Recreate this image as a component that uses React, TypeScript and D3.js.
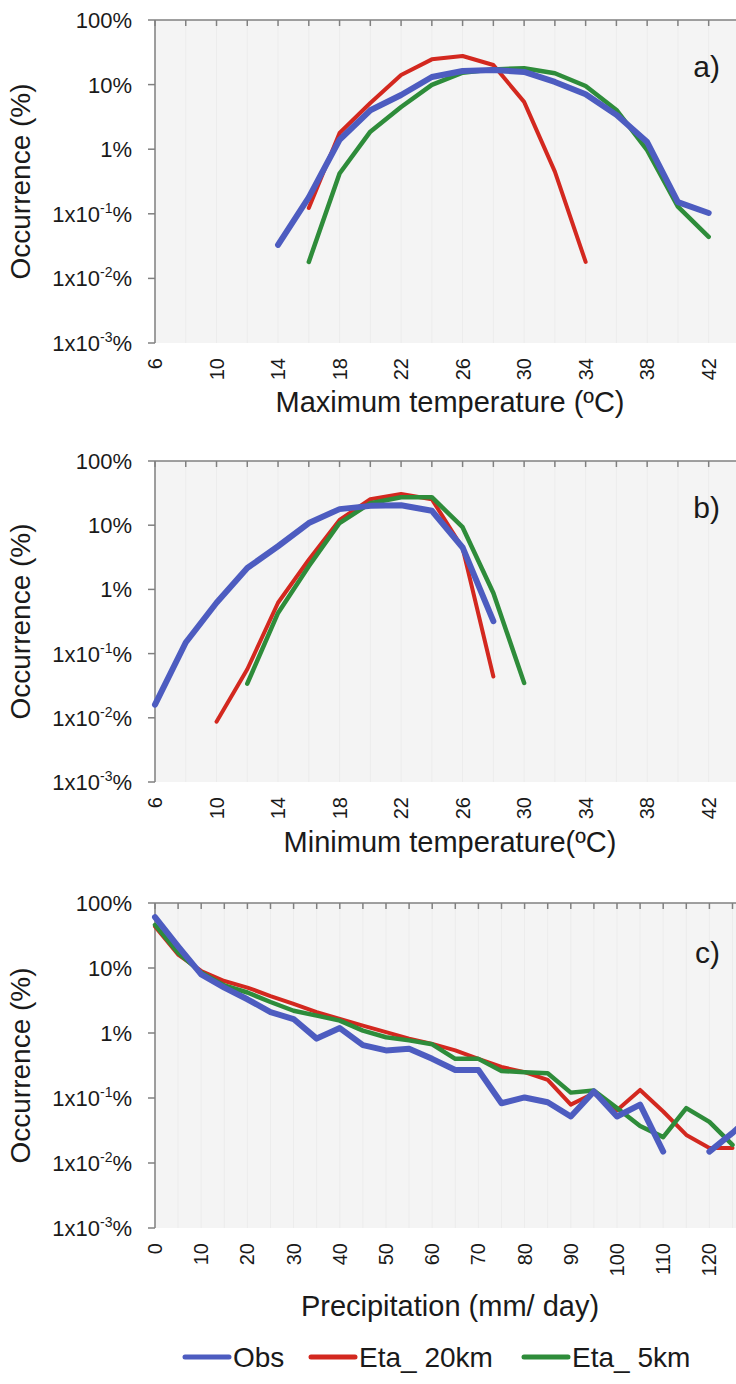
import React from 'react';
import * as d3 from 'd3';

// ---------- DATA ----------
const legendNames = ['Obs', 'Eta_ 20km', 'Eta_ 5km'];

// Panel a) Maximum temperature
const tmaxX = [14, 16, 18, 20, 22, 24, 26, 28, 30, 32, 34, 36, 38, 40, 42];
const tmaxObs = [0.033, 0.18, 1.4, 4.0, 6.9, 13.1, 16.2, 16.8, 15.7, 11, 7.1, 3.4, 1.29, 0.152, 0.103];
const tmaxEta20 = [null, 0.123, 1.78, 5.2, 14.1, 24.6, 27.7, 20.1, 5.4, 0.45, 0.018, null, null, null, null];
const tmaxEta5 = [null, 0.018, 0.42, 1.87, 4.5, 9.9, 15.3, 17.2, 17.9, 15, 9.5, 4.05, 0.97, 0.129, 0.044];

// Panel b) Minimum temperature
const tminX = [6, 8, 10, 12, 14, 16, 18, 20, 22, 24, 26, 28, 30];
const tminObs = [0.016, 0.149, 0.62, 2.15, 4.7, 10.8, 17.8, 20, 20.5, 16.8, 4.5, 0.32, null];
const tminEta20 = [null, null, 0.0087, 0.057, 0.62, 2.9, 12.1, 25.4, 30.7, 25.4, 4.4, 0.044, null];
const tminEta5 = [null, null, null, 0.034, 0.43, 2.3, 10.8, 22, 27.3, 27.3, 9.3, 0.88, 0.035];

// Panel c) Precipitation
const precX = [0, 5, 10, 15, 20, 25, 30, 35, 40, 45, 50, 55, 60, 65, 70, 75, 80, 85, 90, 95, 100, 105, 110, 115, 120, 125, 130];
const precObs = [60.5, 21.6, 8.0, 5.0, 3.3, 2.1, 1.64, 0.82, 1.19, 0.65, 0.54, 0.57, 0.40, 0.27, 0.27, 0.083, 0.102, 0.086, 0.052, 0.126, 0.052, 0.079, 0.015, null, 0.015, 0.029, 0.06];
const precEta20 = [43.5, 16.1, 9.0, 6.3, 5.0, 3.7, 2.8, 2.1, 1.64, 1.3, 1.03, 0.82, 0.68, 0.54, 0.40, 0.30, 0.25, 0.19, 0.079, 0.118, 0.065, 0.133, 0.062, 0.027, 0.017, 0.017, null];
const precEta5 = [46, 17.1, 8.5, 5.4, 4.2, 3.0, 2.2, 1.85, 1.55, 1.09, 0.86, 0.77, 0.67, 0.40, 0.40, 0.26, 0.25, 0.24, 0.121, 0.13, 0.07, 0.037, 0.025, 0.07, 0.043, 0.019, null];

// Axis ticks
const tempMinorTicks = d3.range(6, 46, 2);
const tempLabelTicks = [6, 10, 14, 18, 22, 26, 30, 34, 38, 42];
const precMinorTicks = d3.range(0, 135, 5);
const precLabelTicks = [0, 10, 20, 30, 40, 50, 60, 70, 80, 90, 100, 110, 120];
const yTickValues = [100, 10, 1, 0.1, 0.01, 0.001];
const yTickBase = ['100%', '10%', '1%', '1x10', '1x10', '1x10'];
const yTickExp = ['', '', '', '-1', '-2', '-3'];

// ---------- STYLE ----------
const COLORS = ['#4D5CC0', '#D3281F', '#2E8C3A'];
const WIDTHS = [6, 4, 4.5];
const FONT = '"Liberation Sans", Arial, Helvetica, sans-serif';
const AXIS = '#808080';
const W = 736;
const H = 1384;
const LEFT = 155;

type PanelProps = {
  top: number;
  bottom: number;
  xDomain: [number, number];
  xRangeEnd: number;
  minorTicks: number[];
  labelTicks: number[];
  xs: number[];
  series: (number | null)[][];
  title: string;
  titleY: number;
  letter: string;
  letterY: number;
};

function Panel(p: PanelProps) {
  const x = d3.scaleLinear().domain(p.xDomain).range([LEFT, p.xRangeEnd]);
  const y = d3.scaleLog().domain([0.001, 100]).range([p.bottom, p.top]);
  const tickLabelTop = p.bottom + 15;
  const lineGen = d3
    .line<[number, number | null]>()
    .defined((d) => d[1] != null)
    .x((d) => x(d[0]))
    .y((d) => y(d[1] as number));
  const order = [1, 2, 0];
  return (
    <g>
      <rect x={LEFT} y={p.top} width={W - LEFT} height={p.bottom - p.top} fill="#f4f4f4" />
      {p.minorTicks.map((t) => (
        <line key={'g' + t} x1={x(t)} x2={x(t)} y1={p.top} y2={p.bottom} stroke="#ececec" strokeWidth={1} />
      ))}
      {/* top axis */}
      <line x1={LEFT} x2={W} y1={p.top} y2={p.top} stroke={AXIS} strokeWidth={1.5} />
      {p.minorTicks.map((t) => (
        <line key={'t' + t} x1={x(t)} x2={x(t)} y1={p.top} y2={p.top + 6} stroke={AXIS} strokeWidth={1.5} />
      ))}
      {/* left axis */}
      <line x1={LEFT} x2={LEFT} y1={p.top} y2={p.bottom} stroke={AXIS} strokeWidth={1.5} />
      {yTickValues.map((v, i) => (
        <g key={'y' + i}>
          <line x1={LEFT - 7} x2={LEFT} y1={y(v)} y2={y(v)} stroke={AXIS} strokeWidth={1.5} />
          <text x={132} y={y(v) + 8} textAnchor="end" fontSize={22} fontFamily={FONT} fill="#1a1a1a">
            {yTickBase[i]}
            {yTickExp[i] ? (
              <>
                <tspan fontSize={14} dy={-9}>{yTickExp[i]}</tspan>
                <tspan dy={9}>%</tspan>
              </>
            ) : null}
          </text>
        </g>
      ))}
      {/* x tick labels */}
      {p.labelTicks.map((t) => (
        <text
          key={'xl' + t}
          transform={`translate(${x(t) + 7},${tickLabelTop}) rotate(-90)`}
          textAnchor="end"
          fontSize={20}
          fontFamily={FONT}
          fill="#1a1a1a"
        >
          {t}
        </text>
      ))}
      {/* series */}
      {order.map((si) => (
        <path
          key={'s' + si}
          d={lineGen(p.xs.map((xv, i) => [xv, p.series[si][i]] as [number, number | null])) || ''}
          fill="none"
          stroke={COLORS[si]}
          strokeWidth={WIDTHS[si]}
          strokeLinejoin="round"
          strokeLinecap="round"
        />
      ))}
      {/* y axis title */}
      <text
        transform={`translate(30,${(p.top + p.bottom) / 2}) rotate(-90)`}
        textAnchor="middle"
        fontSize={28}
        fontFamily={FONT}
        fill="#1a1a1a"
      >
        Occurrence (%)
      </text>
      {/* x axis title */}
      <text x={450} y={p.titleY} textAnchor="middle" fontSize={29} fontFamily={FONT} fill="#1a1a1a">
        {p.title}
      </text>
      <text x={720} y={p.letterY} textAnchor="end" fontSize={30} fontFamily={FONT} fill="#1a1a1a">
        {p.letter}
      </text>
    </g>
  );
}

export default function App() {
  const legendX = [185, 311, 524];
  const legendY = 1357;
  return (
    <svg
      width={W}
      height={H}
      viewBox={`0 0 ${W} ${H}`}
      style={{ position: 'absolute', left: 0, top: 0, background: '#ffffff' }}
    >
      <rect x={0} y={0} width={W} height={H} fill="#ffffff" />
      <Panel
        top={20}
        bottom={343}
        xDomain={[6, 44]}
        xRangeEnd={LEFT + 38 * 15.38}
        minorTicks={tempMinorTicks}
        labelTicks={tempLabelTicks}
        xs={tmaxX}
        series={[tmaxObs, tmaxEta20, tmaxEta5]}
        title="Maximum temperature (ºC)"
        titleY={412}
        letter="a)"
        letterY={77}
      />
      <Panel
        top={461}
        bottom={782}
        xDomain={[6, 44]}
        xRangeEnd={LEFT + 38 * 15.38}
        minorTicks={tempMinorTicks}
        labelTicks={tempLabelTicks}
        xs={tminX}
        series={[tminObs, tminEta20, tminEta5]}
        title="Minimum temperature(ºC)"
        titleY={852}
        letter="b)"
        letterY={518}
      />
      <Panel
        top={903}
        bottom={1228}
        xDomain={[0, 130]}
        xRangeEnd={LEFT + 130 * 4.62}
        minorTicks={precMinorTicks}
        labelTicks={precLabelTicks}
        xs={precX}
        series={[precObs, precEta20, precEta5]}
        title="Precipitation (mm/ day)"
        titleY={1316}
        letter="c)"
        letterY={963}
      />
      {legendNames.map((n, i) => (
        <g key={'lg' + i}>
          <line
            x1={legendX[i]}
            x2={legendX[i] + 44}
            y1={legendY}
            y2={legendY}
            stroke={COLORS[i]}
            strokeWidth={5}
            strokeLinecap="round"
          />
          <text x={legendX[i] + 48} y={legendY + 10} fontSize={28} fontFamily={FONT} fill="#1a1a1a">
            {n}
          </text>
        </g>
      ))}
    </svg>
  );
}
